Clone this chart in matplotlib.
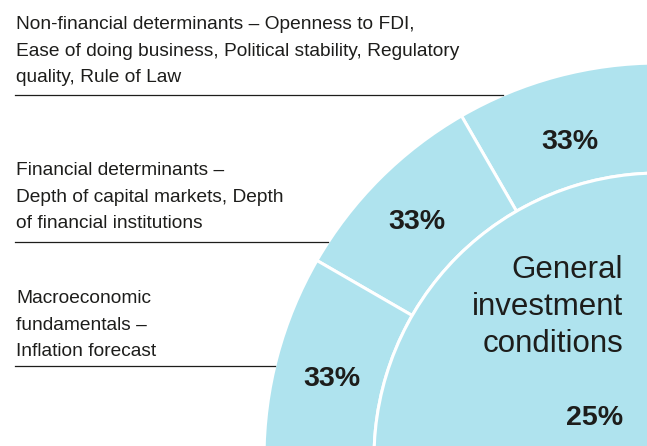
import numpy as np
import matplotlib
matplotlib.use('Agg')
import matplotlib.pyplot as plt

# データ
group_name = ['General', 'investment', 'conditions']
group_weight = 25  # 全体に占める割合(%)
sub_labels = ['Non-financial determinants', 'Financial determinants', 'Macroeconomic fundamentals']
sub_weights = [33, 33, 33]
sub_text = [
    ['Non-financial determinants \u2013 Openness to FDI,',
     'Ease of doing business, Political stability, Regulatory',
     'quality, Rule of Law'],
    ['Financial determinants \u2013',
     'Depth of capital markets, Depth',
     'of financial institutions'],
    ['Macroeconomic',
     'fundamentals \u2013',
     'Inflation forecast'],
]

W, H = 647, 446
blue = '#afe3ee'
txt = '#1d1d1b'
plt.rcParams['font.family'] = ['Liberation Sans', 'DejaVu Sans']

fig = plt.figure(figsize=(W / 100, H / 100), dpi=100)
ax = fig.add_axes([0, 0, 1, 1])

cx, cy = 659, -12   # 円の中心(画像の外)
R, r = 395, 285

# 外側のリング: 25%を3等分
frac = [group_weight / 100 * w / sum(sub_weights) for w in sub_weights]
outer, _ = ax.pie(frac, startangle=90, counterclock=True, normalize=False,
                  radius=R, center=(cx, cy), colors=[blue] * 3,
                  wedgeprops=dict(width=R - r, edgecolor='white', linewidth=2.2))
inner, _ = ax.pie([group_weight / 100], startangle=90, normalize=False,
                  radius=r, center=(cx, cy), colors=[blue],
                  wedgeprops=dict(edgecolor='white', linewidth=2.2))

# 33%ラベル (位置は少し手で調整)
nudge = [(328, 0.8), (338, 0.8), (337, 1.4)]
for wdg, w, (rl, da) in zip(outer, sub_weights, nudge):
    th = np.deg2rad((wdg.theta1 + wdg.theta2) / 2 + da)
    ax.text(cx + rl * np.cos(th), cy + rl * np.sin(th), f'{w}%',
            ha='center', va='center', fontsize=20.5, fontweight='bold', color=txt)

# 中央の円
for i, s in enumerate(group_name):
    ax.text(623, H - 278 - 37 * i, s, ha='right', va='baseline',
            fontsize=22.5, color=txt)
ax.text(623, H - 425, f'{group_weight}%', ha='right', va='baseline',
        fontsize=20.5, fontweight='bold', color=txt)

# 左側の説明文と横線
base_y = [29, 175, 303]
rule_y = [95, 242, 366]
for lines, by, ry in zip(sub_text, base_y, rule_y):
    for j, s in enumerate(lines):
        ax.text(16, H - by - 26.5 * j, s, ha='left', va='baseline',
                fontsize=13.8, color=txt)
    yy = H - ry
    x_end = cx - np.sqrt(R ** 2 - (yy - cy) ** 2)
    ax.plot([15, x_end], [yy, yy], color=txt, lw=0.9)

ax.set_xlim(0, W)
ax.set_ylim(0, H)
ax.set_aspect('equal')
ax.axis('off')
fig.savefig('out.png', dpi=100)
